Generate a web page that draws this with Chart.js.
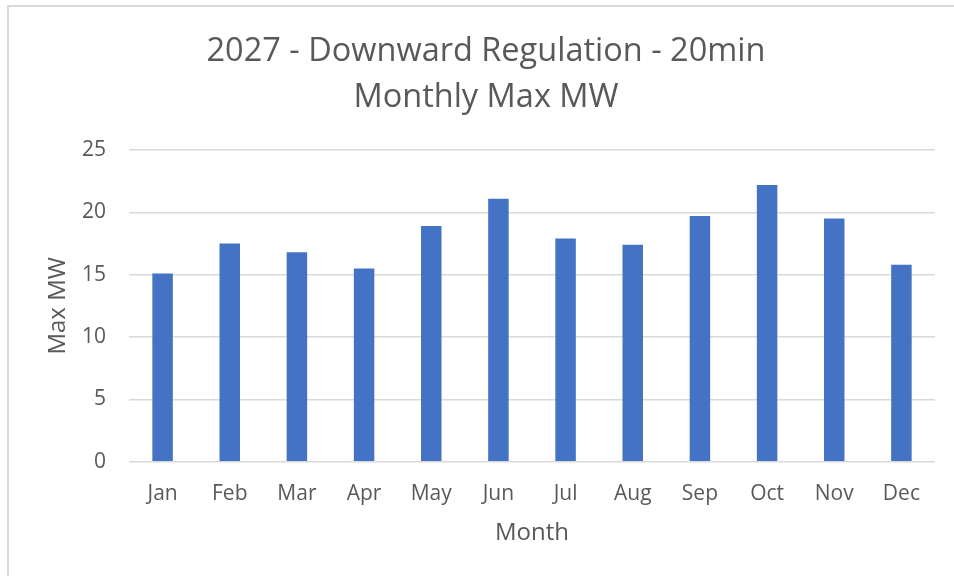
<!DOCTYPE html>
<html>
<head>
<meta charset="utf-8">
<script src="https://cdn.jsdelivr.net/npm/chart.js@4/dist/chart.umd.min.js"></script>
<style>
  html, body { margin: 0; padding: 0; background: #fff; overflow: hidden; }
  #frame {
    position: absolute; left: 7px; top: 5px;
    border-left: 2px solid #d9d9d9; border-top: 2px solid #d9d9d9;
  }
  canvas { display: block; }
</style>
</head>
<body>
<div id="frame"><canvas id="regChart" width="954" height="569"></canvas></div>
<script>
// chart data
const months = ['Jan', 'Feb', 'Mar', 'Apr', 'May', 'Jun', 'Jul', 'Aug', 'Sep', 'Oct', 'Nov', 'Dec'];
const maxMW = [15.1, 17.5, 16.8, 15.5, 18.9, 21.1, 17.9, 17.4, 19.7, 22.2, 19.5, 15.8];
const titleLines = ['2027 - Downward Regulation - 20min', 'Monthly Max MW'];
const yTicks = [0, 5, 10, 15, 20, 25];

const textColor = '#595959';
const fontFamily = "'Open Sans', 'Noto Sans', sans-serif";

const ctx = document.getElementById('regChart').getContext('2d');
new Chart(ctx, {
    type: 'bar',
    data: {
        labels: months,
        datasets: [{
            label: 'Max MW',
            data: maxMW,
            backgroundColor: '#4472C4',
            borderWidth: 0,
            barPercentage: 0.305,
            categoryPercentage: 1
        }]
    },
    options: {
        responsive: false,
        animation: false,
        devicePixelRatio: 1,
        // same padding both sides keeps the title centred on the frame
        layout: { padding: { left: 28, right: 28, top: 0, bottom: 0 } },
        plugins: {
            legend: { display: false },
            tooltip: { enabled: false },
            title: {
                display: true,
                text: titleLines,
                color: textColor,
                font: { family: fontFamily, size: 32.5, weight: 'normal', lineHeight: 46 / 32.5 },
                padding: { top: 22, bottom: 29 }
            }
        },
        scales: {
            x: {
                grid: { display: false, drawTicks: false },
                border: { display: false },
                ticks: {
                    color: textColor,
                    padding: 20,
                    font: { family: fontFamily, size: 21 }
                },
                title: {
                    display: true,
                    text: 'Month',
                    color: textColor,
                    font: { family: fontFamily, size: 24 },
                    padding: { top: 0, bottom: 28.6 }
                },
                afterFit: (scale) => { scale.height = 114.3; }
            },
            y: {
                min: 0,
                max: 25,
                afterBuildTicks: (scale) => { scale.ticks = yTicks.map(v => ({ value: v })); },
                grid: { color: '#d9d9d9', lineWidth: 1.5, drawTicks: false },
                border: { display: false },
                ticks: {
                    color: textColor,
                    padding: 23,
                    font: { family: fontFamily, size: 21 }
                },
                title: {
                    display: true,
                    text: 'Max MW',
                    color: textColor,
                    font: { family: fontFamily, size: 24 },
                    padding: { top: 7, bottom: 0 }
                },
                afterFit: (scale) => { scale.width = 92; }
            }
        }
    }
});
</script>
</body>
</html>
